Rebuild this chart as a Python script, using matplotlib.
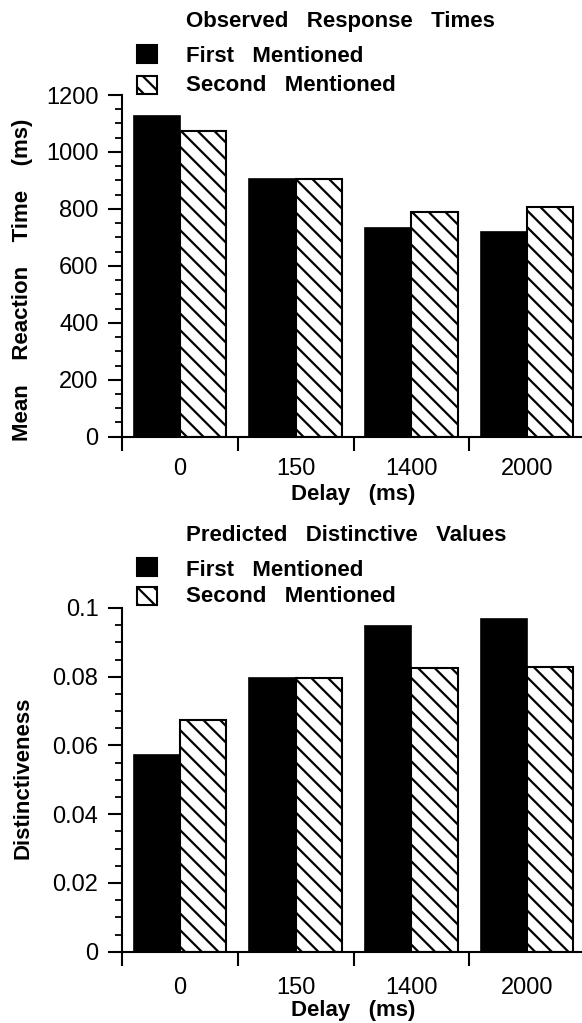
import numpy as np
import matplotlib
matplotlib.use('Agg')
import matplotlib.pyplot as plt
from matplotlib.patches import Rectangle
from matplotlib.ticker import FixedLocator, MultipleLocator

## data
delays = ['0', '150', '1400', '2000']
rt_first = [1126, 904, 732, 718]
rt_second = [1073, 904, 790, 808]
dist_first = [0.0573, 0.0796, 0.0949, 0.0969]
dist_second = [0.0675, 0.0795, 0.0825, 0.0827]
rt_ticks = [0, 200, 400, 600, 800, 1000, 1200]
rt_ticklabels = ['0', '200', '400', '600', '800', '1000', '1200']
dist_ticks = [0, 0.02, 0.04, 0.06, 0.08, 0.1]
dist_ticklabels = ['0', '0.02', '0.04', '0.06', '0.08', '0.1']

plt.rcParams['font.family'] = ['Liberation Sans', 'DejaVu Sans']
plt.rcParams['hatch.linewidth'] = 1.6

W, H = 582, 1023
fig = plt.figure(figsize=(W / 100, H / 100), dpi=100)


def px(x, y):
    # pixel position (from top-left) -> figure fraction
    return x / W, 1 - y / H


def panel(top_px, bottom_px, first, second, ticks, ticklabels, ymax, minor,
          title, ylabel, ylabel_y, label_pad, title_y, leg_y, xlab_y):
    left, right = 122, 585
    ax = fig.add_axes([left / W, 1 - bottom_px / H, (right - left) / W, (bottom_px - top_px) / H])
    x = np.arange(len(delays))
    w = 0.4
    ax.bar(x - w / 2, first, w, color='black', edgecolor='black', linewidth=1.2)
    ax.bar(x + w / 2, second, w, color='white', edgecolor='black', linewidth=1.5, hatch='\\\\')

    ax.set_xlim(-0.5, 3.5)
    ax.set_ylim(0, ymax)
    for s in ['top', 'right']:
        ax.spines[s].set_visible(False)
    ax.spines['left'].set_linewidth(1.5)
    ax.spines['bottom'].set_linewidth(1.5)

    ax.set_yticks(ticks)
    ax.set_yticklabels(ticklabels, fontsize=17)
    ax.yaxis.set_minor_locator(MultipleLocator(minor))
    ax.tick_params(axis='y', which='major', length=10, width=1.5, pad=7)
    ax.tick_params(axis='y', which='minor', length=5, width=1.3)

    ax.set_xticks(x)
    ax.set_xticklabels(delays, fontsize=17)
    ax.xaxis.set_minor_locator(FixedLocator([-0.5, 0.5, 1.5, 2.5]))
    ax.tick_params(axis='x', which='major', length=0, pad=label_pad)
    ax.tick_params(axis='x', which='minor', length=10, width=1.5)

    fig.text(*px(353, xlab_y), 'Delay   (ms)', fontsize=16, fontweight='bold',
             ha='center', va='baseline')
    fig.text(*px(23, ylabel_y), ylabel, fontsize=16, fontweight='bold',
             rotation=90, ha='center', va='center')

    # title and hand-made legend
    fig.text(*px(186, title_y), title, fontsize=16, fontweight='bold', va='baseline')
    names = ['First   Mentioned', 'Second   Mentioned']
    for i, (name, (sq_top, base)) in enumerate(zip(names, leg_y)):
        x0, y0 = px(137, sq_top + 18)
        r = Rectangle((x0, y0), 20 / W, 18 / H, transform=fig.transFigure,
                      facecolor='black' if i == 0 else 'white', edgecolor='black',
                      linewidth=1.5, hatch=None if i == 0 else '\\\\')
        fig.add_artist(r)
        fig.text(*px(186, base), name, fontsize=16, fontweight='bold', va='baseline')
    return ax


panel(95, 436.7, rt_first, rt_second, rt_ticks, rt_ticklabels, 1200, 50,
      'Observed   Response   Times', 'Mean    Reaction    Time    (ms)', 280, 15,
      27, [(45, 62), (76, 91)], 500)
panel(608, 951.7, dist_first, dist_second, dist_ticks, dist_ticklabels, 0.1, 0.005,
      'Predicted   Distinctive   Values', 'Distinctiveness', 778, 18,
      541, [(558, 576), (587, 602)], 1016)

plt.savefig('out.png', dpi=100)
